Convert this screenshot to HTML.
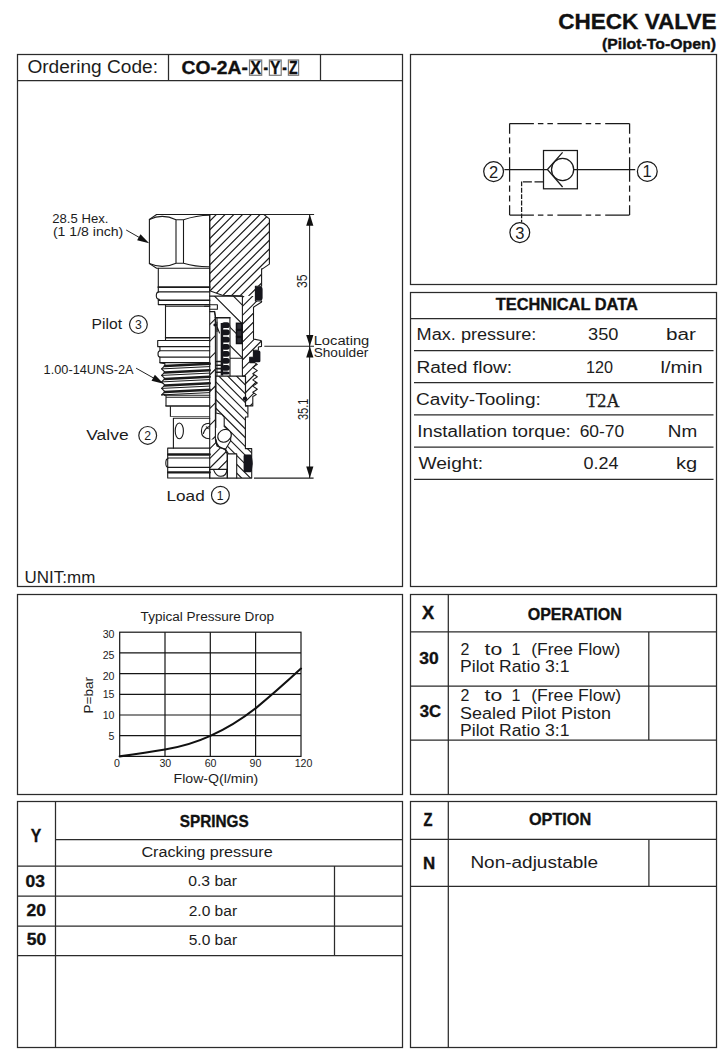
<!DOCTYPE html>
<html lang="en">
<head>
<meta charset="utf-8">
<title>Check Valve (Pilot-To-Open) CO-2A</title>
<style>
html,body{margin:0;padding:0;background:#fff;}
body{width:723px;height:1051px;overflow:hidden;}
svg{display:block;}
text{font-family:"Liberation Sans",sans-serif;fill:#1c1c1c;}
.b{font-weight:bold;fill:#111;stroke:#111;stroke-width:0.35px;}
.ln{stroke:#2b2b2b;stroke-width:1.25;fill:none;}
.dr{stroke:#1a1a1a;stroke-width:1.1;fill:none;stroke-linejoin:round;stroke-linecap:round;}
.drw{stroke:#1a1a1a;stroke-width:1.1;fill:#fff;stroke-linejoin:round;}
.thin{stroke:#222;stroke-width:1;fill:none;}
.serif{font-family:"Liberation Serif",serif;}
</style>
</head>
<body>
<svg width="723" height="1051" viewBox="0 0 723 1051">
<rect x="0" y="0" width="723" height="1051" fill="#ffffff"/>

<!-- ===== HEADER ===== -->
<g id="header">
<text class="b" x="558.2" y="29.1" font-size="22" textLength="158.3" lengthAdjust="spacingAndGlyphs">CHECK VALVE</text>
<text class="b" x="602" y="49.4" font-size="14.5" textLength="114" lengthAdjust="spacingAndGlyphs">(Pilot-To-Open)</text>
</g>

<!-- ===== FRAMES ===== -->
<g id="frames" class="ln">
<rect x="17.5" y="54.5" width="385" height="532"/>
<rect x="410.5" y="54.5" width="306" height="230"/>
<rect x="410.5" y="292.5" width="306" height="294"/>
<rect x="17.5" y="594.5" width="385" height="200"/>
<rect x="410.5" y="594.5" width="306" height="200"/>
<rect x="17.5" y="801.5" width="385" height="246"/>
<rect x="410.5" y="801.5" width="306" height="246"/>
</g>

<!-- ===== ORDERING CODE ===== -->
<g id="ordering">
<path class="ln" d="M17.5,80.5H402.5M168.5,54.5V80.5M320.5,54.5V80.5"/>
<text x="27.4" y="72.7" font-size="17.5" textLength="130.6" lengthAdjust="spacingAndGlyphs">Ordering Code:</text>
<text class="b" x="181.5" y="73.8" font-size="17.8" textLength="66.4" lengthAdjust="spacingAndGlyphs">CO-2A-</text>
<rect x="249.5" y="60" width="12.2" height="15.3" fill="#fff" stroke="#7a7a7a" stroke-width="1.2"/>
<text class="b" x="250.3" y="74" font-size="18.6" textLength="10.8" lengthAdjust="spacingAndGlyphs">X</text>
<text class="b" x="263.5" y="73.8" font-size="17.8" textLength="4.6" lengthAdjust="spacingAndGlyphs">-</text>
<rect x="269.4" y="60" width="11.8" height="15.3" fill="#fff" stroke="#7a7a7a" stroke-width="1.2"/>
<text class="b" x="270.1" y="74" font-size="18.6" textLength="10.4" lengthAdjust="spacingAndGlyphs">Y</text>
<text class="b" x="282.3" y="73.8" font-size="17.8" textLength="4.6" lengthAdjust="spacingAndGlyphs">-</text>
<rect x="288.4" y="60" width="10.2" height="15.3" fill="#fff" stroke="#7a7a7a" stroke-width="1.2"/>
<text class="b" x="289.1" y="74" font-size="18.6" textLength="8.6" lengthAdjust="spacingAndGlyphs">Z</text>
<text x="24.6" y="582.7" font-size="16.5" textLength="70.7" lengthAdjust="spacingAndGlyphs">UNIT:mm</text>
</g>
<!-- ===== VALVE DRAWING ===== -->
<g id="drawing">
<clipPath id="cp1"><path clip-rule="evenodd" d="M209.7,214.5L263.9,214.5L269.4,218.9L269.4,264.1L262.4,268.9L261.6,268.9L261.6,286.2L255.4,286.2L255.4,296.1L222.3,295.3L209.7,290.8Z"/></clipPath>
<path clip-path="url(#cp1)" d="M133.75,297.10L217.35,213.50M142.50,297.10L226.10,213.50M151.25,297.10L234.85,213.50M160.00,297.10L243.60,213.50M168.75,297.10L252.35,213.50M177.50,297.10L261.10,213.50M186.25,297.10L269.85,213.50M195.00,297.10L278.60,213.50M203.75,297.10L287.35,213.50M212.50,297.10L296.10,213.50M221.25,297.10L304.85,213.50M230.00,297.10L313.60,213.50M238.75,297.10L322.35,213.50M247.50,297.10L331.10,213.50M256.25,297.10L339.85,213.50M265.00,297.10L348.60,213.50" stroke="#1a1a1a" stroke-width="1.15" fill="none"/>
<clipPath id="cp2"><path clip-rule="evenodd" d="M255.4,296.1L255.4,301L261.6,301L261.6,302L253.5,307.2L253.5,339L260.8,340.5L261.5,341.2L261.5,346.4L258.4,347L258.4,350.2L253.4,350.2L253.4,357.2L249.7,357.2L249.7,362.6L254.7,362.6L257.3,364.4L252.8,367.5L257.3,370.6L252.8,373.7L257.3,376.8L252.8,379.9L257.3,383L252.8,386.1L257.3,389.2L252.8,392.3L256.3,394.6L252.8,396.6L252.8,405.9L245.5,405.9L245.5,376.1L242.4,376.1L242.4,296.1Z"/></clipPath>
<path clip-path="url(#cp2)" d="M132.97,406.90L244.77,295.10M141.90,406.90L253.70,295.10M150.83,406.90L262.63,295.10M159.76,406.90L271.56,295.10M168.69,406.90L280.49,295.10M177.62,406.90L289.42,295.10M186.55,406.90L298.35,295.10M195.48,406.90L307.28,295.10M204.41,406.90L316.21,295.10M213.34,406.90L325.14,295.10M222.27,406.90L334.07,295.10M231.20,406.90L343.00,295.10M240.13,406.90L351.93,295.10M249.06,406.90L360.86,295.10M257.99,406.90L369.79,295.10" stroke="#1a1a1a" stroke-width="1.15" fill="none"/>
<path class="dr" d="M209.7,214.5L263.9,214.5L269.4,218.9L269.4,264.1L262.4,268.9L261.6,268.9L261.6,286.2L255.4,286.2L255.4,301L261.6,301L261.6,302L253.5,307.2L253.5,339L260.8,340.5L261.5,341.2L261.5,346.4L258.4,347L258.4,350.2L253.4,350.2L253.4,357.2L249.7,357.2L249.7,362.6L254.7,362.6L257.3,364.4L252.8,367.5L257.3,370.6L252.8,373.7L257.3,376.8L252.8,379.9L257.3,383L252.8,386.1L257.3,389.2L252.8,392.3L256.3,394.6L252.8,396.6L252.8,405.9L245.5,405.9L245.5,376.1L242.4,376.1L242.4,296.1L222.3,295.3L209.7,290.8Z"/>
<clipPath id="cp3"><path clip-rule="evenodd" d="M209.7,311.6L214.6,311.6L215.4,316L215.4,439.5L209.7,439.5Z"/></clipPath>
<path clip-path="url(#cp3)" d="M93.70,440.50L223.60,310.60M110.50,440.50L240.40,310.60M127.30,440.50L257.20,310.60M144.10,440.50L274.00,310.60M160.90,440.50L290.80,310.60M177.70,440.50L307.60,310.60M194.50,440.50L324.40,310.60M211.30,440.50L341.20,310.60" stroke="#1a1a1a" stroke-width="1.15" fill="none"/>
<clipPath id="cp4"><path clip-rule="evenodd" d="M209.7,439.5L215.4,439.5L217,446L225,449.5L227.2,454L227.2,469.4L209.7,469.4Z"/></clipPath>
<path clip-path="url(#cp4)" d="M188.10,470.40L220.00,438.50M197.80,470.40L229.70,438.50M207.50,470.40L239.40,438.50M217.20,470.40L249.10,438.50" stroke="#1a1a1a" stroke-width="1.15" fill="none"/>
<path class="dr" d="M209.7,311.6H214.6L215.4,316V439.5L217,446L225,449.5L227.2,454V469.4H209.7"/>
<path class="dr" d="M209.7,469.4V478.1H227.2V469.4"/>
<path class="dr" d="M213.5,469.6Q216,476.5 221,476.3Q226.5,476 227,469.6"/>
<path class="dr" d="M209.7,304.8H217.4V309.2H209.7M204.5,306.2H209.7"/>
<clipPath id="cp5"><path d="M209.7,296.1L242.3,296.1L242.3,358.2L230,358.2L230,326L224,318L217.5,311.8L214.5,311.6L214.5,304.8L209.7,304.8Z"/></clipPath>
<path clip-path="url(#cp5)" d="M227.3,290L299.3,362M208.4,290L280.4,362M192.7,290L264.7,362M174.4,290L246.4,362" stroke="#1a1a1a" stroke-width="1.1" fill="none"/>
<path class="dr" d="M209.7,296.1H242.3M230,358.2H242.3M230,326V376.1M214.6,311.6C215,316 216,318 215.3,322"/>
<clipPath id="cp6"><path clip-rule="evenodd" d="M216,376.1L245.5,376.1L245.5,405.9L247.9,405.9L247.9,417L245.4,417L245.4,448.6L251.7,448.6L251.7,478.1L236.7,478.1L236.7,453.9L228.5,453.9L225.5,449.2L230.5,441L231.2,433L226.5,428.3L224.2,426.6L224.2,417L221.5,414.2L216,413Z"/></clipPath>
<path clip-path="url(#cp6)" d="M121.10,375.10L225.10,479.10M129.90,375.10L233.90,479.10M138.70,375.10L242.70,479.10M147.50,375.10L251.50,479.10M156.30,375.10L260.30,479.10M165.10,375.10L269.10,479.10M173.90,375.10L277.90,479.10M182.70,375.10L286.70,479.10M191.50,375.10L295.50,479.10M200.30,375.10L304.30,479.10M209.10,375.10L313.10,479.10M217.90,375.10L321.90,479.10M226.70,375.10L330.70,479.10M235.50,375.10L339.50,479.10M244.30,375.10L348.30,479.10" stroke="#1a1a1a" stroke-width="1.15" fill="none"/>
<path class="dr" d="M216,376.1L245.5,376.1L245.5,405.9L247.9,405.9L247.9,417L245.4,417L245.4,448.6L251.7,448.6L251.7,478.1L236.7,478.1L236.7,453.9L228.5,453.9L225.5,449.2L230.5,441L231.2,433L226.5,428.3L224.2,426.6L224.2,417L221.5,414.2L216,413Z"/>
<path class="dr" d="M227.4,453.9V478.1M236.7,478.1H227.4"/>
<path class="dr" style="stroke-width:1.5" d="M215.8,439.5C216.5,446.5 220,448 225.5,449.2"/>
<ellipse class="drw" cx="224.5" cy="435.8" rx="7.1" ry="6" transform="rotate(-35 224.5 435.8)"/>
<path class="dr" d="M215.8,413V427.5"/>
<path d="M256.2,286.6H260.5Q262.6,286.6 262.6,289.5V297.5Q262.6,300.6 260.5,300.6H256.2Q255.2,300.6 255.2,298.5V288.6Q255.2,286.6 256.2,286.6Z" fill="#15151c"/>
<path d="M254.6,350.5H258.8Q260.4,350.5 260.4,352V361Q260.4,362.3 259,362.3H250.8Q249.7,362.3 249.7,361.2V358.4Q249.7,357.3 250.8,357.3H253.4V351.6Q253.4,350.5 254.6,350.5Z" fill="#15151c"/>
<path d="M245,454.4H250.5Q251.6,454.4 251.8,456L252.6,461.5Q252.9,463.5 252.5,465.5L251.8,470.8Q251.5,472.3 250.3,472.3H245Q243.6,472.3 243.6,470.8V456Q243.6,454.4 245,454.4Z" fill="#15151c"/>
<circle cx="245" cy="398.6" r="2.2" fill="#15151c"/>
<rect x="236.5" y="323.3" width="5.4" height="6.2" fill="#2c2c33" stroke="#101014" stroke-width="1.5"/>
<rect x="236.5" y="330.3" width="5.4" height="6.2" fill="#2c2c33" stroke="#101014" stroke-width="1.5"/>
<rect x="236.5" y="337.3" width="5.4" height="6.2" fill="#2c2c33" stroke="#101014" stroke-width="1.5"/>
<path class="dr" style="stroke-width:1.5" d="M215.2,317.7H229.9"/>
<path class="dr" d="M217,318.2V331.5M216.2,324.5L219.5,333M229.9,317.7V326"/>
<circle cx="214.8" cy="325" r="1.4" fill="#15151c"/>
<g fill="#15151c"><rect x="220.7" y="323" width="2.6" height="52.5"/><rect x="221.6" y="322.3" width="8.2" height="5.8" rx="2.7"/><rect x="221.6" y="329.5" width="8.2" height="5.8" rx="2.7"/><rect x="221.6" y="336.8" width="8.2" height="5.8" rx="2.7"/><rect x="221.6" y="343.9" width="8.2" height="5.8" rx="2.7"/><rect x="221.6" y="351.0" width="8.2" height="5.8" rx="2.7"/><rect x="221.6" y="358.0" width="8.2" height="5.8" rx="2.7"/><rect x="221.6" y="365.0" width="8.2" height="5.8" rx="2.7"/><rect x="221.6" y="371.4" width="8.2" height="3.2" rx="2.7"/></g>
<path class="dr" style="stroke-width:1.6" d="M216.5,361.5H221M216.5,365.2H221M216.5,368.6H221M216.5,372.2H221"/>
<path class="dr" d="M216.9,322V376"/>
<path class="dr" d="M209.7,214.5H156.6L149.4,219.4V263.6L156.6,268.2H209.7"/>
<path class="dr" d="M149.4,219.4Q162.5,213.2 176,219.8V263.2M183.5,219.8V263.2M183.5,219.8Q196,215.3 209.7,215.2M149.4,263.6Q162.5,269.4 176,263.2H183.5Q196,266.9 209.7,266.7M176,219.8H183.5"/>
<path class="dr" d="M158.3,268.2V291.9M158.3,299.4V304.6H209.7M165.5,306.2H209.7"/>
<path class="dr" style="stroke-width:1.8" d="M158.3,287.1H209.7"/>
<path class="dr" d="M209.7,291.9H159.3Q156.3,291.9 156.3,295.6Q156.3,299.4 159.3,299.4"/>
<path class="dr" style="stroke-width:1.6" d="M158.6,300.2H209.7"/>
<path class="dr" d="M165.5,304.6V340.5"/>
<path class="dr" style="stroke-width:1.4" d="M165.5,337.7H209.7"/>
<path class="dr" d="M157.7,340.5H209.7M157.7,340.5V346.6H209.7M159.9,346.6V350.7M159.9,357.1V362.6H209.7"/>
<path class="dr" d="M209.7,350.7H160.2Q158,350.7 158,353.9Q158,357.1 160.2,357.1H209.7"/>
<path class="dr" d="M159.9,362.6L164.9,363.6L164.9,365.6L161.6,368.9L164.9,372.1L161.6,375.4L164.9,378.6L161.6,381.9L164.9,385.1L161.6,388.4L164.9,391.6L161.6,394.9L164.9,394.3V395.3"/>
<path class="dr" style="stroke-width:2.5" d="M164.9,365.9L209.7,363.7M164.9,372.4L209.7,370.2M164.9,378.9L209.7,376.7M164.9,385.4L209.7,383.2M164.9,391.9L209.7,389.7"/>
<path class="dr" style="stroke-width:1.0" d="M161.6,368.9L209.7,366.6M161.6,375.4L209.7,373.1M161.6,381.9L209.7,379.6M161.6,388.4L209.7,386.1M161.6,394.9L209.7,392.6"/>
<path class="dr" d="M164.4,395.3H209.7M166,395.3V405.5M166,397.3H209.7M170.4,406.6V416.5M173.4,418.2H209.7M173.4,418.2V448.1"/>
<path class="dr" style="stroke-width:1.6" d="M166,406H209.7"/>
<path d="M170.4,416.5H209.7" stroke="#666" stroke-width="1" fill="none"/>
<ellipse class="dr" cx="179.3" cy="430.9" rx="4.1" ry="7.9"/>
<path class="dr" d="M209.7,423.2C203.5,423.2 201.4,427 201.4,431C201.4,435 203.5,438.8 209.7,438.8M209.7,426.2C205.5,428 204,431 203.4,433.5M206.3,426.8L208.3,428.6"/>
<path class="dr" d="M167.7,448.1H209.7M167.7,448.1V478H209.7M168,458H209.7M168,467.4H209.7"/>
<path class="dr" style="stroke-width:2.3" d="M168.2,454.5H209.7M168.2,472.4H209.7"/>
<path class="dr" d="M168,458.6Q165.8,458.8 165.8,463Q165.8,467.2 168,467.4"/>
<path class="dr" d="M209.7,214.5V478"/>
<!-- dimensions -->
<g class="thin" style="stroke-width:1.05">
<path d="M263.9,214.5H314.1M264.3,346.2H314M254,478.1H313.6M309.6,214.5V478.1"/>
</g>
<g fill="#111">
<path d="M309.8,214.5L306.2,225.8H313.4Z"/>
<path d="M309.8,346.2L306.2,335H313.4Z"/>
<path d="M309.8,346.2L306.2,357.4H313.4Z"/>
<path d="M309.8,478.1L306.2,466.6H313.4Z"/>
</g>
<text transform="translate(307.2,281.3) rotate(-90)" font-size="14" text-anchor="middle" textLength="13.6" lengthAdjust="spacingAndGlyphs">35</text>
<text transform="translate(307.6,409.4) rotate(-90)" font-size="14" text-anchor="middle" textLength="21.3" lengthAdjust="spacingAndGlyphs">35.1</text>
<text x="313.7" y="344.9" font-size="12" textLength="55.6" lengthAdjust="spacingAndGlyphs">Locating</text>
<text x="313.7" y="357.4" font-size="12" textLength="54.6" lengthAdjust="spacingAndGlyphs">Shoulder</text>

<!-- labels -->
<text x="52.3" y="222.9" font-size="13" textLength="56.1" lengthAdjust="spacingAndGlyphs">28.5 Hex.</text>
<text x="52.9" y="236.2" font-size="13" textLength="70.4" lengthAdjust="spacingAndGlyphs">(1 1/8 inch)</text>
<path class="thin" d="M126.2,230L142,239"/>
<path fill="#111" d="M149.2,243.2L137.1,240.2L140.5,234.3Z"/>
<text x="91.6" y="328.7" font-size="15.2" textLength="30.4" lengthAdjust="spacingAndGlyphs">Pilot</text>
<circle class="thin" style="stroke-width:1.2" cx="138.4" cy="324.6" r="8.9"/>
<text x="138.4" y="329" font-size="12.2" text-anchor="middle">3</text>
<text x="43.6" y="374.2" font-size="12.5" textLength="90" lengthAdjust="spacingAndGlyphs">1.00-14UNS-2A</text>
<path class="thin" d="M136.1,368.2L156,379.4"/>
<path fill="#111" d="M163.6,383.7L151.5,380.8L154.9,374.8Z"/>
<text x="86.3" y="440.4" font-size="15.2" textLength="42.3" lengthAdjust="spacingAndGlyphs">Valve</text>
<circle class="thin" style="stroke-width:1.2" cx="147.7" cy="435.4" r="8.9"/>
<text x="147.7" y="439.8" font-size="12.2" text-anchor="middle">2</text>
<text x="166.5" y="501.3" font-size="15.2" textLength="38.2" lengthAdjust="spacingAndGlyphs">Load</text>
<circle class="thin" style="stroke-width:1.2" cx="220.4" cy="495.2" r="8.9"/>
<text x="220.2" y="499.6" font-size="12.2" text-anchor="middle">1</text>
</g>
<!-- ===== SCHEMATIC ===== -->
<g id="schematic">
<g class="thin" style="stroke-width:1.25;stroke:#1a1a1a">
<path d="M509.6,123.5H629.6" stroke-dasharray="24.3 4 5.5 4 5.5 4.5"/>
<path d="M509.6,215.1H629.6" stroke-dasharray="24.3 4 5.5 4 5.5 4.5"/>
<path d="M509.6,123.5V215.1" stroke-dasharray="10.2 3.7 6.2 3.7 6.2 3.7 24.6 3.7 6.2 3.7 6.2 3.7 10.2"/>
<path d="M629.6,123.5V215.1" stroke-dasharray="10.2 3.7 6.2 3.7 6.2 3.7 24.6 3.7 6.2 3.7 6.2 3.7 10.2"/>
<rect x="543.5" y="150.5" width="33.9" height="38.3"/>
<circle cx="562.6" cy="169.5" r="11.1"/>
<path d="M562.6,152.4L547.4,169.5L562.6,187"/>
<path d="M504.4,169.5H547.4M573.7,169.5H635.2"/>
<path d="M543.5,181.9H521.6" stroke-dasharray="9 2.6"/><path d="M521.6,181.4V222.5" stroke-dasharray="4.9 1.5"/>
<circle cx="493.6" cy="171.6" r="9.9"/>
<circle cx="647.3" cy="171.4" r="9.9"/>
<circle cx="519.8" cy="232.6" r="9.9"/>
</g>
<g font-size="16.5" text-anchor="middle">
<text x="493.6" y="177.6">2</text>
<text x="647.1" y="177.4">1</text>
<text x="519.8" y="238.6">3</text>
</g>
</g>
<!-- ===== TECHNICAL DATA ===== -->
<g id="tech">
<path class="ln" d="M410.5,318.7H716.5"/>
<path class="ln" d="M414,350.7H713.5M414,382.7H713.5M414,414.9H713.5M414,447.2H713.5M414,479.3H713.5"/>
<text class="b" x="495.7" y="310.4" font-size="16.5" textLength="142.1" lengthAdjust="spacingAndGlyphs">TECHNICAL DATA</text>
<text x="416.6" y="339.7" font-size="16" textLength="119.8" lengthAdjust="spacingAndGlyphs">Max. pressure:</text>
<text x="588.1" y="339.7" font-size="16" textLength="30.4" lengthAdjust="spacingAndGlyphs">350</text>
<text x="666.0" y="339.7" font-size="16" textLength="29.9" lengthAdjust="spacingAndGlyphs">bar</text>
<text x="416.4" y="372.7" font-size="16" textLength="95.8" lengthAdjust="spacingAndGlyphs">Rated flow:</text>
<text x="585.9" y="372.7" font-size="16" textLength="27.0" lengthAdjust="spacingAndGlyphs">120</text>
<text x="660.5" y="372.7" font-size="16" textLength="42.0" lengthAdjust="spacingAndGlyphs">l/min</text>
<text x="416.0" y="405.2" font-size="16" textLength="124.8" lengthAdjust="spacingAndGlyphs">Cavity-Tooling:</text>
<text class="serif" x="586.3" y="406.8" font-size="17.8" textLength="33.2" lengthAdjust="spacingAndGlyphs" stroke="#1c1c1c" stroke-width="0.3">T2A</text>
<text x="417.3" y="437.2" font-size="16" textLength="153.5" lengthAdjust="spacingAndGlyphs">Installation torque:</text>
<text x="579.7" y="437.2" font-size="16" textLength="44.5" lengthAdjust="spacingAndGlyphs">60-70</text>
<text x="667.8" y="437.2" font-size="16" textLength="29.4" lengthAdjust="spacingAndGlyphs">Nm</text>
<text x="418.4" y="468.7" font-size="16" textLength="64.8" lengthAdjust="spacingAndGlyphs">Weight:</text>
<text x="583.5" y="468.7" font-size="16" textLength="35.0" lengthAdjust="spacingAndGlyphs">0.24</text>
<text x="676.0" y="468.7" font-size="16" textLength="21.2" lengthAdjust="spacingAndGlyphs">kg</text>
</g>
<!-- ===== CHART ===== -->
<g id="chart">
<text x="140.6" y="621.4" font-size="12.3" textLength="133.4" lengthAdjust="spacingAndGlyphs">Typical Pressure Drop</text>
<g class="thin" style="stroke-width:1.2;stroke:#151515">
<rect x="119.7" y="632.2" width="181.3" height="124.2"/>
<path d="M165,632.2V756.4M210.3,632.2V756.4M255.6,632.2V756.4"/>
<path d="M119.7,652.9H301M119.7,673.6H301M119.7,694.3H301M119.7,715H301M119.7,735.7H301"/>
</g>
<path d="M119.7,756.4 C140,753.5 150,752 165,749.5 C182,746.7 196,742.5 210.3,735.9 C228,728 242,719 255.6,708.3 C272,695 286,682.4 301,668.6" fill="none" stroke="#111" stroke-width="2.1" stroke-linecap="round"/>
<g font-size="10.6" text-anchor="end">
<text x="114.5" y="638">30</text>
<text x="114.5" y="659.2">25</text>
<text x="114.5" y="679.9">20</text>
<text x="114.5" y="698.3">15</text>
<text x="114.5" y="718.7">10</text>
<text x="114.5" y="739.7">5</text>
</g>
<g font-size="10.6" text-anchor="middle">
<text x="117" y="767.2">0</text>
<text x="165.3" y="767.2">30</text>
<text x="210.6" y="767.2">60</text>
<text x="255.4" y="767.2">90</text>
<text x="303.5" y="767.2">120</text>
</g>
<text x="173.5" y="783.2" font-size="12.6" textLength="84.8" lengthAdjust="spacingAndGlyphs">Flow-Q(l/min)</text>
<text transform="translate(92.6,695.2) rotate(-90)" font-size="13" text-anchor="middle" textLength="36.6" lengthAdjust="spacingAndGlyphs">P=bar</text>
</g>
<!-- ===== OPERATION ===== -->
<g id="operation">
<path class="ln" d="M448.3,594.5V794.5M410.5,631.9H716.5M410.5,686.2H716.5M410.5,740.2H716.5M648.8,631.9V740.2"/>
<text class="b" x="421.9" y="619.3" font-size="17.5" textLength="12.2" lengthAdjust="spacingAndGlyphs">X</text>
<text class="b" x="527.7" y="619.8" font-size="17" textLength="94.2" lengthAdjust="spacingAndGlyphs">OPERATION</text>
<text class="b" x="419.2" y="663.9" font-size="17" textLength="19.4" lengthAdjust="spacingAndGlyphs">30</text>
<text class="b" x="419.7" y="716.9" font-size="17" textLength="21.3" lengthAdjust="spacingAndGlyphs">3C</text>
<text x="460.4" y="654.6" font-size="16">2</text>
<text x="484.6" y="654.6" font-size="16" textLength="17.6" lengthAdjust="spacingAndGlyphs">to</text>
<text x="511.6" y="654.6" font-size="16">1</text>
<text x="531.2" y="654.6" font-size="16" textLength="89.2" lengthAdjust="spacingAndGlyphs">(Free Flow)</text>
<text x="460.0" y="671.6" font-size="16" textLength="109.5" lengthAdjust="spacingAndGlyphs">Pilot Ratio 3:1</text>
<text x="460.4" y="701.4" font-size="16">2</text>
<text x="484.6" y="701.4" font-size="16" textLength="17.6" lengthAdjust="spacingAndGlyphs">to</text>
<text x="511.6" y="701.4" font-size="16">1</text>
<text x="531.2" y="701.4" font-size="16" textLength="89.8" lengthAdjust="spacingAndGlyphs">(Free Flow)</text>
<text x="460.0" y="718.6" font-size="16" textLength="151.0" lengthAdjust="spacingAndGlyphs">Sealed Pilot Piston</text>
<text x="460.0" y="735.5" font-size="16" textLength="109.5" lengthAdjust="spacingAndGlyphs">Pilot Ratio 3:1</text>
</g>
<!-- ===== SPRINGS ===== -->
<g id="springs">
<path class="ln" d="M55.5,801.5V1047.5M55.5,839.6H402.5M17.5,866.2H402.5M17.5,896H402.5M17.5,926H402.5M17.5,955.7H402.5M334.5,866.2V955.7"/>
<text class="b" x="30.8" y="841.5" font-size="18" textLength="10.5" lengthAdjust="spacingAndGlyphs">Y</text>
<text class="b" x="179.7" y="827.4" font-size="16.5" textLength="69" lengthAdjust="spacingAndGlyphs">SPRINGS</text>
<text x="141.4" y="857.3" font-size="15.5" textLength="131.3" lengthAdjust="spacingAndGlyphs">Cracking pressure</text>
<text class="b" x="25.6" y="886.5" font-size="16.5" textLength="19.4" lengthAdjust="spacingAndGlyphs">03</text>
<text class="b" x="26.5" y="915.5" font-size="16.5" textLength="19.4" lengthAdjust="spacingAndGlyphs">20</text>
<text class="b" x="26.8" y="944.6" font-size="16.5" textLength="19.4" lengthAdjust="spacingAndGlyphs">50</text>
<text x="188.2" y="885.9" font-size="14" textLength="48.9" lengthAdjust="spacingAndGlyphs">0.3 bar</text>
<text x="188.7" y="916" font-size="14" textLength="48.4" lengthAdjust="spacingAndGlyphs">2.0 bar</text>
<text x="188.7" y="945.1" font-size="14" textLength="48.4" lengthAdjust="spacingAndGlyphs">5.0 bar</text>
</g>
<!-- ===== OPTION ===== -->
<g id="option">
<path class="ln" d="M448.3,801.5V1047.5M410.5,839.4H716.5M410.5,886.4H716.5M648.9,839.4V886.4"/>
<text class="b" x="423.5" y="826.3" font-size="18" textLength="9" lengthAdjust="spacingAndGlyphs">Z</text>
<text class="b" x="528.9" y="824.9" font-size="17" textLength="62.3" lengthAdjust="spacingAndGlyphs">OPTION</text>
<text class="b" x="422.9" y="869.2" font-size="17" textLength="12.2" lengthAdjust="spacingAndGlyphs">N</text>
<text x="470.4" y="867.8" font-size="16" textLength="127.7" lengthAdjust="spacingAndGlyphs">Non-adjustable</text>
</g>
</svg>
</body>
</html>
